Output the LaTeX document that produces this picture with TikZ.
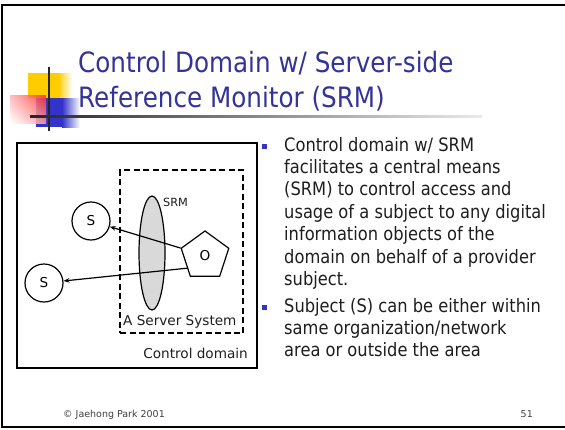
\documentclass[tikz,border=0pt]{standalone}
\usepackage{fontspec}
\setmainfont{DejaVu Sans}[FakeStretch=0.88]
\newfontfamily\widefont{DejaVu Sans}
\usetikzlibrary{shapes.geometric,calc,arrows.meta,shadings}
\definecolor{titleblue}{RGB}{51,51,153}
\definecolor{bulletblue}{RGB}{51,51,204}
\definecolor{logoyellow}{RGB}{255,204,0}
\definecolor{logored}{RGB}{255,40,40}
\definecolor{srmgray}{RGB}{217,217,217}
\definecolor{textblack}{RGB}{30,30,30}
\tikzset{
  frameline/.style={line width=2.5pt},
  titletext/.style={font=\fontsize{28}{30}\selectfont, text=titleblue, anchor=base west, inner sep=0pt},
  bodytext/.style={font=\fontsize{18.5}{21}\selectfont, text=textblack, anchor=base west, inner sep=0pt},
  bulletbox/.style={fill=bulletblue, minimum size=5pt, inner sep=0pt},
  subj/.style={circle, draw, fill=white, line width=1.2pt, minimum size=38pt, inner sep=0pt, font=\widefont\fontsize{13.6}{15}\selectfont},
  obj/.style={regular polygon, regular polygon sides=5, draw, fill=white, line width=1.2pt, minimum size=50pt, inner sep=0pt, font=\widefont\fontsize{13.6}{15}\selectfont},
  monitor/.style={ellipse, draw, fill=srmgray, line width=1.2pt, minimum width=26pt, minimum height=114pt, inner sep=0pt},
  flow/.style={-{Stealth[length=6pt,width=4.5pt]}, line width=1.2pt},
  smalltext/.style={font=\widefont\fontsize{13.6}{15}\selectfont, text=textblack, inner sep=0pt},
  tinytext/.style={font=\widefont\fontsize{11.3}{13}\selectfont, text=textblack, inner sep=0pt},
  foottext/.style={font=\widefont\fontsize{9.5}{11}\selectfont, text=black!75, inner sep=0pt, anchor=base west},
  domainbox/.style={draw, line width=2pt, inner sep=0pt},
  serverbox/.style={draw, dashed, dash pattern=on 6pt off 3.5pt, line width=1.6pt, inner sep=0pt},
}
\begin{document}
\begin{tikzpicture}[x=1pt,y=-1pt]
\useasboundingbox[fill=white] (0,0) rectangle (565,429);
% slide frame
\draw[frameline] (565,5) -- (2,5) -- (2,427) -- (565,427);
% logo
\fill[logoyellow] (28,73) rectangle (58,98);
\shade[left color=logoyellow, right color=white] (58,73) rectangle (72,98);
\fill[bulletblue] (36,98) rectangle (62,127);
\shade[left color=bulletblue, right color=white] (62,98) rectangle (80,127);
\shade[upper right=logored, upper left=logored!35, lower right=logored!45, lower left=white, opacity=0.85] (10,95) rectangle (46,123);
\draw[line width=2pt, black!85] (49,67) -- (49,131);
\shade[left color=black!85, right color=black!8] (30,115) rectangle (482,117.5);
% title
\node[titletext] (t1) at (78,72) {Control Domain w/ Server-side};
\node[titletext] (t2) at (78,107) {Reference Monitor (SRM)};
% diagram
\node[domainbox, minimum width=240pt, minimum height=225pt] (domain) at (137,255.5) {};
\node[serverbox, minimum width=123pt, minimum height=163pt] (server) at (181.5,251.5) {};
\node[monitor] (srm) at (152,253) {};
\node[tinytext, anchor=west] (srmlabel) at (163,202) {SRM};
\node[obj] (O) at (205,256) {O};
\node[subj] (S1) at (91,221) {S};
\node[subj] (S2) at (44,283) {S};
\draw[flow] (O.corner 2) -- (S1);
\draw[flow] ($(O.corner 2)!0.7!(O.corner 3)$) -- (S2);
\node[smalltext, anchor=west] (serverlabel) at (123,322) {A Server System};
\node[smalltext, anchor=east] (domainlabel) at (248,353) {Control domain};
% bullets
\node[bulletbox] (b1) at (264.5,146.5) {};
\node[bulletbox] (b2) at (264.5,307.5) {};
\node[bodytext] (l1) at (284,151) {Control domain w/ SRM};
\node[bodytext] (l2) at (284,173) {facilitates a central means};
\node[bodytext] (l3) at (284,195.5) {(SRM) to control access and};
\node[bodytext] (l4) at (284,218) {usage of a subject to any digital};
\node[bodytext] (l5) at (284,240.5) {information objects of the};
\node[bodytext] (l6) at (284,263) {domain on behalf of a provider};
\node[bodytext] (l7) at (284,285.5) {subject.};
\node[bodytext] (l8) at (284,312) {Subject (S) can be either within};
\node[bodytext] (l9) at (284,334) {same organization/network};
\node[bodytext] (l10) at (284,356.5) {area or outside the area};
% footer
\node[foottext] (foot) at (63,417) {© Jaehong Park 2001};
\node[foottext, anchor=base east] (page) at (533,417) {51};
\end{tikzpicture}
\end{document}
